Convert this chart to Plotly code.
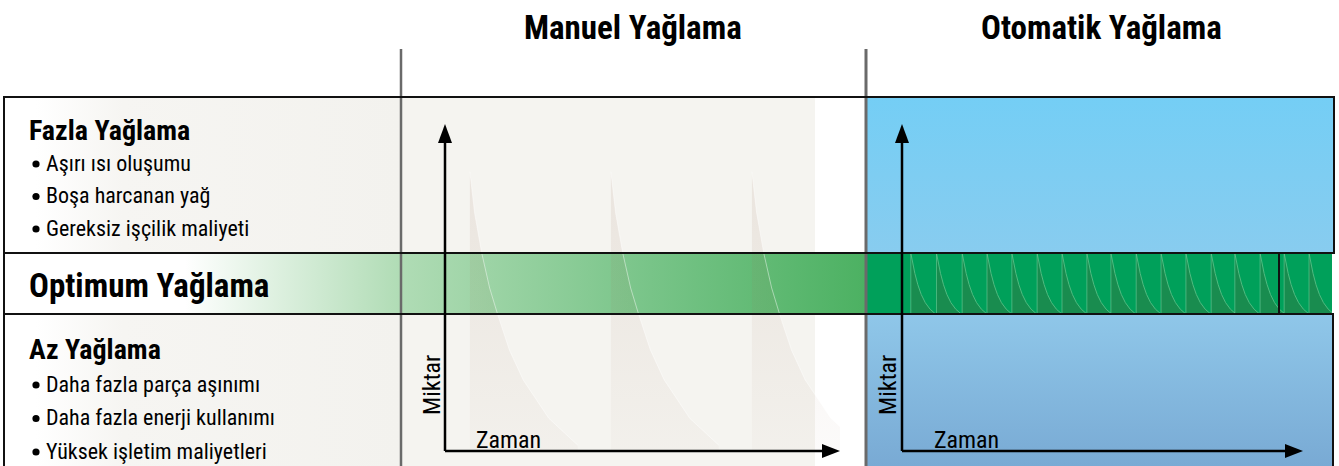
import plotly.graph_objects as go

# ---------------- data ----------------
section_titles = ["Manuel Yağlama", "Otomatik Yağlama"]
over_title = "Fazla Yağlama"
over_items = ["Aşırı ısı oluşumu", "Boşa harcanan yağ", "Gereksiz işçilik maliyeti"]
optimum_title = "Optimum Yağlama"
under_title = "Az Yağlama"
under_items = ["Daha fazla parça aşınımı", "Daha fazla enerji kullanımı", "Yüksek işletim maliyetleri"]
axis_y_label = "Miktar"
axis_x_label = "Zaman"

# manual lubrication: refill moments (time units) and decay profile after each refill
manual_refill_times = [6.3, 42.0, 77.7]
manual_decay_dt = [0, 1.2, 3.0, 5.0, 7.0, 10.0, 13.5, 20.0, 27.3]
manual_decay_level = [85.6, 73.0, 60.7, 50.0, 42.0, 31.0, 21.8, 10.0, 1.8]

# automatic lubrication: many small refills staying inside the optimum band
auto_refill_times = [2.2, 8.6, 15.0, 21.2, 27.4, 33.7, 39.9, 46.1, 52.1, 58.4,
                     64.6, 70.8, 77.1, 83.0, 89.3, 95.3, 101.5]
auto_decay_dt = [0, 0.5, 1.0, 1.75, 2.6, 3.6, 4.8, 6.2]
auto_decay_level = [60.7, 57.0, 54.5, 51.0, 48.0, 45.5, 43.5, 42.0]
optimum_band_levels = [42.0, 60.7]

# ---------------- layout geometry (pixels) ----------------
W, H = 1339, 466
TOP, BAND_T, BAND_B = 97, 253, 314
LEFT, DIV1, DIV2, RIGHT = 4, 401, 866, 1334
NARROW = "Liberation Sans Narrow, Roboto Condensed, DejaVu Sans Condensed, Arial Narrow, sans-serif"

fig = go.Figure()


def box(x0, x1, y0, y1):
    return [x0, x1, x1, x0, x0], [y0, y0, y1, y1, y0]


def grad_rect(x0, x1, y0, y1, scale, kind, start, stop):
    xs, ys = box(x0, x1, y0, y1)
    fig.add_trace(go.Scatter(
        x=xs, y=ys, mode="lines", line=dict(width=0), fill="toself",
        fillgradient=dict(type=kind, colorscale=scale, start=start, stop=stop),
        hoverinfo="skip", showlegend=False, xaxis="x", yaxis="y"))


def solid_rect(x0, x1, y0, y1, color):
    xs, ys = box(x0, x1, y0, y1)
    fig.add_trace(go.Scatter(
        x=xs, y=ys, mode="lines", line=dict(width=0), fill="toself", fillcolor=color,
        hoverinfo="skip", showlegend=False, xaxis="x", yaxis="y"))


# backgrounds
grad_rect(LEFT, DIV1, TOP, H, [[0, "#ffffff"], [0.08, "#ffffff"], [0.3, "#f6f5f2"], [1, "#f3f2ee"]],
          "horizontal", LEFT, DIV1)
solid_rect(DIV1, 815, TOP, H, "#f5f4f0")
grad_rect(DIV2, RIGHT, TOP, BAND_T, [[0, "#74cef5"], [1, "#88ccef"]], "vertical", TOP, BAND_T)
grad_rect(DIV2, RIGHT - 1, BAND_B, H, [[0, "#8fc7e9"], [1, "#79aad4"]], "vertical", BAND_B, H)
# optimum band
grad_rect(LEFT, DIV2, BAND_T, BAND_B,
          [[0, "#ffffff"], [0.21, "#ffffff"], [0.46, "#b0dcb5"], [0.75, "#78c488"], [1, "#4cb162"]],
          "horizontal", LEFT, DIV2)
solid_rect(DIV2, RIGHT - 2, BAND_T, BAND_B, "#00a05a")


# ---------------- mini charts ----------------
def teeth(times, dts, levels, base):
    xs, ys, lx, ly = [], [], [], []
    for t in times:
        xs += [t] + [t + d for d in dts] + [t + dts[-1], t, None]
        ys += [base] + list(levels) + [base, base, None]
        lx += [t + d for d in dts] + [None]
        ly += list(levels) + [None]
    return xs, ys, lx, ly


# manual: faint shading under each decay curve
mx, my, mlx, mly = teeth(manual_refill_times, manual_decay_dt, manual_decay_level, 0)
fig.add_trace(go.Scatter(
    x=mx, y=my, mode="lines", line=dict(width=0), fill="toself",
    fillgradient=dict(type="vertical",
                      colorscale=[[0, "rgba(155,114,90,0.03)"], [1, "rgba(155,114,90,0.12)"]],
                      start=0, stop=85),
    hoverinfo="skip", showlegend=False, xaxis="x2", yaxis="y2"))
fig.add_trace(go.Scatter(
    x=mlx, y=mly, mode="lines", line=dict(width=1, color="rgba(255,255,255,0.45)"),
    hoverinfo="skip", showlegend=False, xaxis="x2", yaxis="y2"))

# automatic: saw-tooth inside the optimum band
ax_, ay_, alx, aly = teeth(auto_refill_times, auto_decay_dt, auto_decay_level, optimum_band_levels[0])
fig.add_trace(go.Scatter(
    x=ax_, y=ay_, mode="lines", line=dict(width=0), fill="toself", fillcolor="#198c4f",
    hoverinfo="skip", showlegend=False, xaxis="x3", yaxis="y3"))
fig.add_trace(go.Scatter(
    x=alx, y=aly, mode="lines", line=dict(width=1, color="#4fbb80"),
    hoverinfo="skip", showlegend=False, xaxis="x3", yaxis="y3"))
vx, vy = [], []
for t in auto_refill_times:
    vx += [t, t, None]
    vy += [optimum_band_levels[0], optimum_band_levels[1], None]
fig.add_trace(go.Scatter(
    x=vx, y=vy, mode="lines", line=dict(width=1, color="rgba(120,210,160,0.55)"),
    hoverinfo="skip", showlegend=False, xaxis="x3", yaxis="y3"))

# ---------------- shapes: borders, dividers, arrows ----------------
shapes = []


def line(x0, y0, x1, y1, color="#111111", width=2):
    shapes.append(dict(type="line", xref="x", yref="y", x0=x0, y0=y0, x1=x1, y1=y1,
                       line=dict(color=color, width=width)))


line(DIV1, 49, DIV1, H, "#6a6a6a", 2.5)
line(DIV2, 49, DIV2, H, "#6a6a6a", 3)
line(LEFT, TOP, RIGHT, TOP)
line(LEFT, BAND_T, RIGHT, BAND_T)
line(LEFT, BAND_B, RIGHT - 1, BAND_B)
line(LEFT, TOP - 1, LEFT, H)
line(RIGHT, TOP - 1, RIGHT, BAND_T + 1)
line(RIGHT - 1, BAND_B - 1, RIGHT - 1, H)
line(1279, BAND_T, 1279, BAND_B)

for x0, x1 in [(445, 840), (902, 1303)]:
    line(x0, 451, x0, 140, "#000000", 2.5)
    line(x0, 451, x1 - 14, 451, "#000000", 2.5)
    shapes.append(dict(type="path", xref="x", yref="y",
                       path=f"M {x0-7},{143} L {x0},{124} L {x0+7},{143} Z",
                       fillcolor="#000000", line=dict(width=0)))
    shapes.append(dict(type="path", xref="x", yref="y",
                       path=f"M {x1-18},{444} L {x1},{451} L {x1-18},{458} Z",
                       fillcolor="#000000", line=dict(width=0)))

# bullet dots (circles) for the lists
BULLET_X, BULLET_R = 36, 3.6
over_rows = [163 + i * 32.5 for i in range(len(over_items))]
under_rows = [384 + i * 33.5 for i in range(len(under_items))]
for yb in over_rows + under_rows:
    shapes.append(dict(type="circle", xref="x", yref="y",
                       x0=BULLET_X - BULLET_R, x1=BULLET_X + BULLET_R,
                       y0=yb + 1 - BULLET_R, y1=yb + 1 + BULLET_R,
                       fillcolor="#000000", line=dict(width=0)))

# ---------------- text ----------------
ann = []


def text(x, y, s, size, bold=False, anchor="left", angle=0):
    ann.append(dict(x=x, y=y, xref="x", yref="y", text=s, showarrow=False,
                    xanchor=anchor, yanchor="middle", textangle=angle,
                    font=dict(family=NARROW, size=size, color="#000000",
                              weight="bold" if bold else "normal")))


text(633, 27, section_titles[0], 33, True, "center")
text(1101, 27, section_titles[1], 33, True, "center")
text(27, 130, over_title, 28, True)
for yb, s in zip(over_rows, over_items):
    text(44, yb, s, 22)
text(27, 285, optimum_title, 33, True)
text(27, 349, under_title, 28, True)
for yb, s in zip(under_rows, under_items):
    text(44, yb, s, 22)
for xm, xz in [(432, 474), (888, 932)]:
    text(xm, 385, axis_y_label, 24, False, "center", -90)
    text(xz, 440, axis_x_label, 24)

# ---------------- layout ----------------
hidden = dict(visible=False, showgrid=False, zeroline=False, fixedrange=True)
fig.update_layout(
    width=W, height=H, margin=dict(l=0, r=0, t=0, b=0),
    paper_bgcolor="#ffffff", plot_bgcolor="rgba(0,0,0,0)", showlegend=False,
    xaxis=dict(range=[0, W], domain=[0, 1], **hidden),
    yaxis=dict(range=[H, 0], domain=[0, 1], **hidden),
    xaxis2=dict(range=[0, 100], domain=[445 / W, 840 / W], anchor="y2", **hidden),
    yaxis2=dict(range=[0, 100], domain=[1 - 451 / H, 1 - 125 / H], anchor="x2", **hidden),
    xaxis3=dict(range=[0, (1332 - 902) / 4.01], domain=[902 / W, 1332 / W], anchor="y3", **hidden),
    yaxis3=dict(range=[0, 100], domain=[1 - 451 / H, 1 - 125 / H], anchor="x3", **hidden),
    shapes=shapes, annotations=ann,
)

fig.write_html("out.html", config={"displayModeBar": False},
               post_script="document.body.style.margin='0';document.body.style.overflow='hidden';")
